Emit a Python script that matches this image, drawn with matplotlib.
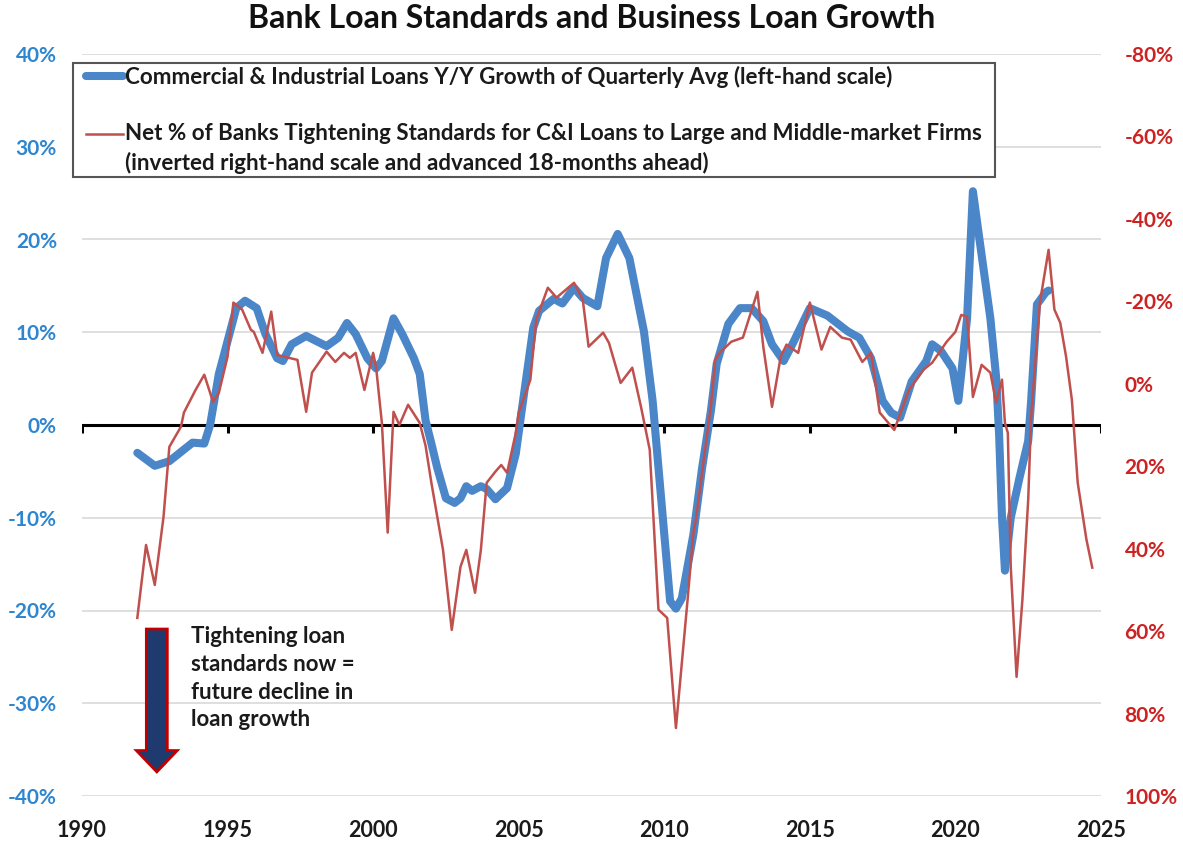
import numpy as np
import matplotlib.pyplot as plt
from matplotlib.lines import Line2D
from matplotlib.patches import Rectangle, FancyArrow
from matplotlib.ticker import FuncFormatter

plt.rcParams['font.family'] = ['Lato', 'DejaVu Sans']
plt.rcParams['font.weight'] = 'bold'

# C&I loans, Y/Y growth of quarterly average (%), left-hand scale
loan_years = [1991.9, 1992.5, 1993.0, 1993.8, 1994.2, 1994.4, 1994.7, 1995.3, 1995.6, 1996.0,
              1996.3, 1996.7, 1996.9, 1997.2, 1997.7, 1998.4, 1998.8, 1999.1, 1999.4, 1999.8,
              2000.1, 2000.3, 2000.7, 2001.0, 2001.4, 2001.6, 2001.8, 2002.0, 2002.2, 2002.5,
              2002.8, 2003.0, 2003.2, 2003.4, 2003.7, 2003.9, 2004.2, 2004.6, 2004.9, 2005.1,
              2005.5, 2005.7, 2006.2, 2006.5, 2006.9, 2007.2, 2007.7, 2008.0, 2008.4, 2008.8,
              2009.3, 2009.6, 2009.9, 2010.2, 2010.4, 2010.6, 2011.0, 2011.3, 2011.6, 2011.8,
              2012.2, 2012.6, 2013.0, 2013.4, 2013.7, 2014.1, 2014.4, 2015.0, 2015.6, 2016.3,
              2016.7, 2017.1, 2017.5, 2017.8, 2018.1, 2018.5, 2019.0, 2019.2, 2019.5, 2019.9,
              2020.1, 2020.4, 2020.6, 2020.8, 2021.2, 2021.4, 2021.5, 2021.6, 2021.7, 2021.9,
              2022.2, 2022.5, 2022.6, 2022.8, 2023.1, 2023.2]
loan_growth = [-3.0, -4.4, -3.9, -1.9, -2.0, 0.0, 5.5, 12.6, 13.4, 12.6,
               9.8, 7.2, 6.9, 8.7, 9.6, 8.5, 9.4, 11.0, 9.8, 7.2,
               6.1, 6.9, 11.5, 9.8, 7.2, 5.5, 0.5, -2.0, -4.6, -7.9,
               -8.4, -7.9, -6.6, -7.1, -6.6, -6.9, -8.0, -6.8, -3.1, 1.5,
               10.5, 12.3, 13.6, 13.1, 14.8, 13.7, 12.8, 18.0, 20.6, 18.0,
               10.1, 2.6, -8.2, -19.0, -19.8, -18.7, -11.8, -4.6, 1.5, 6.6,
               10.9, 12.6, 12.6, 11.2, 8.7, 6.9, 8.7, 12.6, 11.8, 10.1,
               9.4, 7.2, 2.6, 1.3, 0.8, 4.7, 6.9, 8.7, 8.0, 6.1,
               2.6, 11.5, 25.2, 20.6, 11.5, 5.1, -1.0, -10.0, -15.7, -10.0,
               -5.7, -1.7, 2.6, 13.0, 14.3, 14.5]

# Net % of banks tightening C&I standards, shifted 18 months ahead (right-hand scale, inverted)
tight_years = [1991.9, 1992.2, 1992.5, 1992.8, 1993.0, 1993.4, 1993.5, 1993.9, 1994.2, 1994.5,
               1994.7, 1995.0, 1995.2, 1995.5, 1995.8, 1995.9, 1996.2, 1996.5, 1996.7, 1997.1,
               1997.4, 1997.7, 1997.9, 1998.4, 1998.7, 1999.0, 1999.2, 1999.4, 1999.7, 2000.0,
               2000.1, 2000.3, 2000.5, 2000.7, 2000.9, 2001.2, 2001.6, 2001.8, 2002.0, 2002.4,
               2002.7, 2003.0, 2003.2, 2003.5, 2003.7, 2003.9, 2004.2, 2004.4, 2004.6, 2004.9,
               2005.0, 2005.4, 2005.6, 2006.0, 2006.3, 2006.9, 2007.2, 2007.4, 2007.9, 2008.1,
               2008.5, 2008.9, 2009.2, 2009.5, 2009.8, 2010.1, 2010.4, 2010.8, 2011.0, 2011.1,
               2011.4, 2011.6, 2011.75, 2011.9, 2012.3, 2012.7, 2013.2, 2013.4, 2013.7, 2014.0,
               2014.2, 2014.6, 2015.0, 2015.4, 2015.7, 2016.1, 2016.4, 2016.8, 2017.1, 2017.4,
               2017.9, 2018.4, 2018.9, 2019.2, 2019.7, 2020.0, 2020.2, 2020.4, 2020.6, 2020.9,
               2021.2, 2021.4, 2021.6, 2021.7, 2021.8, 2021.9, 2022.1, 2022.3, 2022.5, 2022.6,
               2022.9, 2023.2, 2023.4, 2023.6, 2023.8, 2024.0, 2024.2, 2024.5, 2024.7]
tightening = [56.8, 39.1, 48.8, 32.3, 15.3, 10.4, 7.0, 1.5, -2.2, 4.4,
              2.2, -6.6, -19.7, -18.0, -13.1, -12.6, -7.5, -17.5, -7.0, -6.3,
              -5.8, 6.8, -2.7, -7.8, -5.3, -7.5, -6.3, -7.5, 1.5, -7.5,
              -4.1, 9.5, 36.1, 6.8, 10.0, 5.1, 9.5, 15.0, 24.0, 40.3,
              59.7, 44.4, 40.3, 50.7, 40.3, 24.0, 21.3, 19.7, 21.6, 11.9,
              7.0, -1.0, -15.5, -23.3, -20.9, -24.5, -20.4, -9.0, -12.4, -9.9,
              -0.2, -3.9, 5.6, 16.0, 54.8, 56.8, 83.5, 52.4, 36.1, 32.3,
              16.0, 5.6, -5.8, -7.5, -10.2, -11.2, -22.3, -9.0, 5.6, -6.6,
              -9.5, -7.5, -19.7, -8.3, -13.8, -11.2, -10.7, -5.3, -7.5, 7.0,
              11.2, 1.5, -3.4, -5.1, -10.2, -12.6, -16.7, -16.3, 3.2, -4.6,
              -2.7, 4.6, -1.0, 9.5, 11.9, 44.4, 71.1, 52.4, 28.1, 8.0,
              -19.7, -32.5, -18.0, -14.8, -6.6, 3.9, 24.0, 37.8, 44.6]

year_ticks = [1990, 1995, 2000, 2005, 2010, 2015, 2020, 2025]
left_ticks = [-40, -30, -20, -10, 0, 10, 20, 30, 40]
right_ticks = [-80, -60, -40, -20, 0, 20, 40, 60, 80, 100]

BLUE = '#4A86C8'
RED = '#C0504D'
LBL_BLUE = '#2E86D0'
LBL_RED = '#CC2222'

fig = plt.figure(figsize=(11.83, 8.41), dpi=100)
ax = fig.add_axes([82 / 1183, 1 - 796 / 841, 1019 / 1183, 742 / 841])
ax2 = ax.twinx()

# left axis: loan growth
ax.set_xlim(1990, 2025)
ax.set_ylim(-40, 40)
ax.set_yticks(left_ticks)
ax.yaxis.set_major_formatter(FuncFormatter(lambda v, p: f'{v:.0f}%'))
ax.grid(axis='y', color='#D9D9D9', lw=1.2)
ax.set_axisbelow(True)
ax.set_xticks(year_ticks)
ax.tick_params(axis='x', length=0, pad=17, labelsize=15.5, labelcolor='#1a1a1a')
ax.tick_params(axis='y', length=0, pad=18, labelsize=15, labelcolor=LBL_BLUE)
for s in ax.spines.values():
    s.set_visible(False)

# zero line with small downward year ticks
ax.axhline(0, color='black', lw=2.2, zorder=3)
ax.vlines(year_ticks, -0.9, 0, color='black', lw=2.2, zorder=3)

# right axis: tightening standards, inverted
ax2.set_ylim(100, -80)
ax2.set_yticks(right_ticks)
ax2.yaxis.set_major_formatter(FuncFormatter(lambda v, p: f'{v:.0f}%'))
ax2.tick_params(axis='y', length=0, pad=17, labelsize=15, labelcolor=LBL_RED)
for s in ax2.spines.values():
    s.set_visible(False)

ax2.plot(loan_years, loan_growth, color=BLUE, lw=5.8, zorder=1,
         transform=ax.transData, solid_capstyle='round', solid_joinstyle='round')
ax2.plot(tight_years, tightening, color=RED, lw=1.8, zorder=3,
         solid_joinstyle='round')

# title
fig.text(0.5, 1 - 19 / 841, 'Bank Loan Standards and Business Loan Growth',
         ha='center', va='center', fontsize=23, color='#111111')

# legend box
def fx(px):
    return px / 1183

def fy(py):
    return 1 - py / 841

fig.add_artist(Rectangle((fx(73), fy(177)), fx(995) - fx(73), fy(63) - fy(177),
                         transform=fig.transFigure, facecolor='white',
                         edgecolor='#555555', lw=1.5, zorder=4))
fig.add_artist(Line2D([fx(86), fx(123)], [fy(76), fy(76)], transform=fig.transFigure,
                      color=BLUE, lw=5.8, solid_capstyle='round', zorder=5))
fig.add_artist(Line2D([fx(86), fx(123)], [fy(134), fy(134)], transform=fig.transFigure,
                      color=RED, lw=1.8, zorder=5))
legend_font = dict(fontsize=16.1, color='#1a1a1a', va='center', ha='left', zorder=6)
fig.text(fx(125), fy(77), 'Commercial & Industrial Loans Y/Y Growth of Quarterly Avg (left-hand scale)',
         **legend_font)
fig.text(fx(125), fy(134), 'Net % of Banks Tightening Standards for C&I Loans to Large and Middle-market Firms',
         **legend_font)
fig.text(fx(125), fy(163), '(inverted right-hand scale and advanced 18-months ahead)',
         **legend_font)

# arrow note
ax.add_patch(FancyArrow(1992.57, -22.0, 0, -15.4, width=0.72, head_width=1.4,
                        head_length=2.3, length_includes_head=True,
                        facecolor='#1F3A6E', edgecolor='#C00000', lw=2, zorder=4))
fig.text(fx(191), fy(626), 'Tightening loan\nstandards now =\nfuture decline in\nloan growth',
         ha='left', va='top', fontsize=16, color='#1a1a1a', linespacing=1.4)

fig.savefig('out.png', dpi=100)
